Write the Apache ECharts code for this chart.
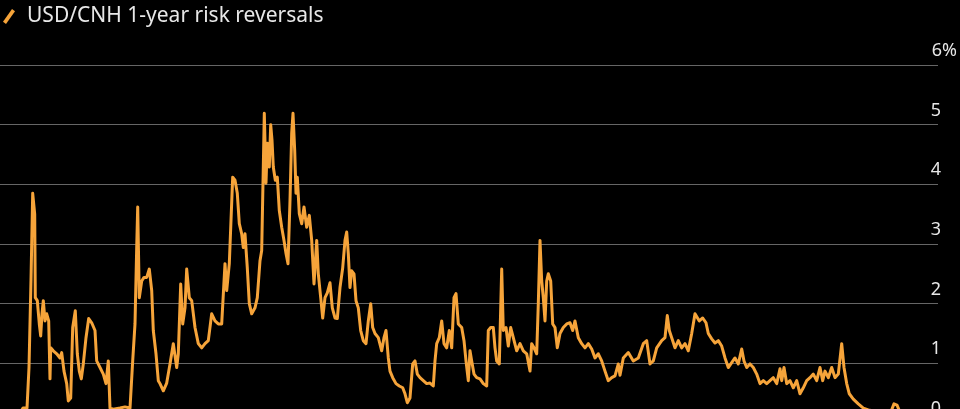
<!DOCTYPE html>
<html>
<head>
<meta charset="utf-8">
<script src="https://cdn.jsdelivr.net/npm/echarts@6/dist/echarts.min.js"></script>
<style>
html,body{margin:0;padding:0;background:#000;width:960px;height:409px;overflow:hidden;}
#chart{width:960px;height:423px;}
</style>
</head>
<body>
<div id="chart"></div>
<script>
// Time position: months elapsed since the start of the plotted window (approx. Mar 2011)
const monthIdx = [0.4,2,3.6,4.6,5.4,5.8,6.2,6.54,6.94,7.06,7.46,7.86,8.14,8.4,8.66,9,9.34,9.74,10,10.14,10.66,11.34,12,12.34,12.8,13.34,13.66,14.14,14.54,15.06,15.46,15.86,16.26,16.66,17.2,17.74,18.34,19,19.34,20,20.66,21.2,21.66,22,22.66,24,25,26,26.54,27,27.34,27.54,27.86,28.34,28.8,29.34,29.86,30.34,30.66,31.2,31.66,32,32.66,33.34,34,34.66,35.34,35.66,36.14,36.54,37,37.34,37.86,38.34,39,39.66,40.34,41,41.66,42.34,43,43.66,44.34,45,45.34,45.86,46.54,47,47.46,47.86,48.34,48.66,49,49.46,49.86,50.34,51,51.46,52,52.34,52.66,52.86,53.2,53.46,53.86,54.14,54.4,54.66,55.06,55.46,55.86,56.34,56.8,57.2,57.6,58,58.34,58.6,58.94,59.2,59.46,59.86,60.34,60.8,61.34,61.86,62.34,62.8,63.34,63.66,64.14,64.54,65,65.46,66,66.46,67,67.46,68,68.54,69,69.34,69.66,70,70.34,70.8,71.2,71.66,72.14,72.66,73.2,73.66,74.14,74.54,75,75.66,76.34,76.8,77.2,77.66,78,78.54,79.2,79.86,80.54,81,81.46,82,82.54,83,83.46,84,84.66,85.34,86,86.66,87,87.34,87.86,88.34,88.8,89.34,89.86,90.34,90.8,91.2,91.66,92.34,92.8,93.2,93.66,94,94.34,94.8,95.34,96,96.66,97.34,97.66,98.14,98.66,99,99.34,99.86,100.34,100.66,101.2,101.66,102.14,102.66,103.34,104,104.66,105.34,106,106.34,106.8,107.34,107.66,108,108.34,108.66,109,109.34,109.66,110.14,110.54,111,111.46,112,112.66,113.34,114,114.54,115,115.66,116.34,117,117.66,118.34,119,119.66,120.34,121,121.66,122.34,123,123.66,124,124.66,125.66,126.66,127.66,128.66,129.34,130,130.66,131.34,132.34,133,133.46,133.86,134.34,135,135.66,136.34,137,137.66,138.34,139,139.34,139.86,140.54,141.2,141.66,142.34,143,143.66,144.34,145,145.66,146.34,147,147.66,148.34,148.8,149.34,150,150.66,151.34,152,152.66,153.34,154,154.66,155.34,156,156.34,156.8,157.34,158,158.66,159.34,160,160.66,161.34,162,162.66,163.34,164,164.54,165,165.66,166.34,167,167.66,168.34,168.8,169.34,169.86,170.66,171.66,172.66,173.66,174.66,175.6,176.8,178,178.8,179.4,180,180.8,181.6];
// USD/CNH 1-year risk reversal, in %
const riskReversal = [0.1,0.08,0.12,0.25,0.25,0.93,2.4,3.85,3.5,2.1,2.05,1.66,1.46,1.83,2.05,1.71,1.83,1.71,0.74,1.26,1.21,1.16,1.09,1.18,0.87,0.66,0.37,0.42,1.6,1.88,1.16,0.87,0.74,0.99,1.43,1.75,1.68,1.55,1.04,0.93,0.82,0.66,1.04,0.25,0.23,0.25,0.27,0.25,1.04,1.66,2.94,3.62,2.1,2.38,2.44,2.44,2.58,2.22,1.55,1.16,0.71,0.66,0.54,0.67,0.99,1.33,0.93,1.16,2.33,1.66,1.93,2.58,2.1,2.05,1.6,1.33,1.26,1.33,1.38,1.83,1.71,1.66,1.66,2.67,2.22,2.67,4.12,4.07,3.85,3.34,3.17,2.94,3.17,2.6,2.0,1.83,1.93,2.1,2.72,2.89,4.29,5.19,4.02,4.69,4.29,5.0,4.74,4.29,4.07,4.12,3.56,3.28,3.06,2.84,2.67,3.73,4.86,5.19,4.57,3.85,4.12,3.51,3.34,3.62,3.28,3.48,3.06,2.33,3.06,2.5,2.1,1.76,2.1,2.18,2.35,1.93,1.76,1.75,2.27,2.6,3.06,3.2,2.84,2.27,2.55,2.5,2.05,1.93,1.55,1.38,1.33,1.71,2.0,1.6,1.5,1.43,1.21,1.43,1.55,1.09,0.87,0.76,0.66,0.62,0.59,0.49,0.34,0.42,0.99,1.04,0.82,0.76,0.71,0.66,0.67,0.62,1.04,1.33,1.43,1.71,1.33,1.26,1.55,1.26,2.1,2.17,1.66,1.6,1.38,1.04,0.71,1.21,1.04,0.82,0.76,0.74,0.66,0.62,1.55,1.6,1.6,1.26,1.04,0.99,2.58,1.55,1.6,1.29,1.6,1.43,1.21,1.33,1.21,1.16,0.87,1.33,1.26,1.16,2.0,3.06,2.38,2.1,1.71,2.38,2.5,2.38,1.66,1.6,1.26,1.5,1.6,1.66,1.68,1.55,1.71,1.43,1.33,1.26,1.33,1.24,1.09,1.16,1.04,0.87,0.71,0.76,0.79,0.99,0.8,1.09,1.18,1.04,1.09,1.33,1.38,0.99,1.04,1.26,1.38,1.43,1.8,1.55,1.43,1.26,1.38,1.26,1.33,1.21,1.5,1.83,1.85,1.71,1.76,1.68,1.5,1.41,1.34,1.38,1.29,1.09,0.93,1.01,1.09,0.99,1.24,1.04,0.93,0.99,0.93,0.82,0.66,0.71,0.66,0.71,0.76,0.66,0.91,0.71,0.93,0.66,0.71,0.59,0.71,0.49,0.59,0.71,0.76,0.82,0.71,0.93,0.71,0.87,0.76,0.93,0.76,0.82,1.33,0.93,0.66,0.49,0.4,0.32,0.25,0.22,0.2,0.12,0.1,0.15,0.32,0.3,0.18,0.12,0.08];
const yTicks = [0,1,2,3,4,5,6];
const seriesName = 'USD/CNH 1-year risk reversals';

const chart = echarts.init(document.getElementById('chart'), null, {renderer:'canvas'});
const points = monthIdx.map((m,i)=>[m, riskReversal[i]]);
const FONT = "'Noto Sans', 'Open Sans', sans-serif";
chart.setOption({
  backgroundColor:'#000',
  animation:false,
  legend:{
    show:true,
    data:[seriesName],
    left:3, top:6, padding:0,
    icon:'path://M9,0 L12,2.2 L3,15 L0,12.8 Z',
    itemWidth:12, itemHeight:15,
    textStyle:{color:'#e8e8e8', fontSize:21, fontFamily:FONT, padding:[0,0,0,7]}
  },
  grid:{left:0, right:22, top:65, bottom:0, containLabel:false},
  xAxis:{type:'value', min:0, max:187.6, show:false},
  yAxis:{
    type:'value', position:'right', min:yTicks[0], max:yTicks[yTicks.length-1], interval:1,
    axisLine:{show:false}, axisTick:{show:false},
    splitLine:{show:true, lineStyle:{color:'#666', width:1}},
    axisLabel:{
      show:true, margin:19, align:'right', verticalAlign:'bottom', padding:[0,0,5,0],
      formatter:function(v){ return v===6 ? '{n|6%}' : '{n|'+v+'}{p| }'; },
      rich:{
        n:{color:'#e6e6e6', fontSize:18, fontFamily:FONT},
        p:{width:16, fontSize:18}
      }
    }
  },
  series:[{
    name:seriesName, type:'line', data:points, showSymbol:false, symbol:'none',
    color:'#f6a43a',
    lineStyle:{color:'#f6a43a', width:3, join:'round'},
    clip:true
  }]
});
</script>
</body>
</html>
